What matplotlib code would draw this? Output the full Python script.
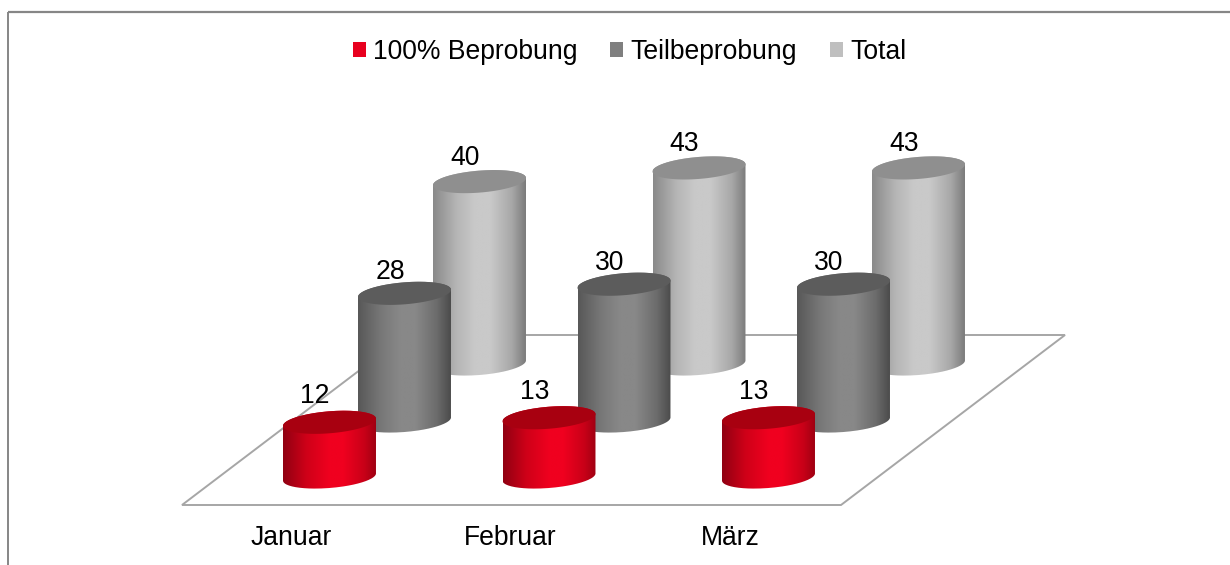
import numpy as np
import matplotlib
matplotlib.use("Agg")
import matplotlib.pyplot as plt
from matplotlib.colors import LinearSegmentedColormap
from matplotlib.patches import PathPatch, Patch, Polygon
from matplotlib.path import Path

categories = ["Januar", "Februar", "März"]
series_names = ["100% Beprobung", "Teilbeprobung", "Total"]
beprobung = [12, 13, 13]
teilbeprobung = [28, 30, 30]
total = [40, 43, 43]

plt.rcParams["font.family"] = ["Liberation Sans", "DejaVu Sans"]
FS = 19.1
fig = plt.figure(figsize=(12.3, 5.65), dpi=100)
ax = fig.add_axes([0, 0, 1, 1])
ax.axis("off")

# layout in pixel space
K = 4.56           # pixels per unit
A, B, S = 46.5, 11.0, 3.6
CX0, CAT_DX = 329.5, 219.5
SERIES_DX = 75
BASES = [477, 421, 364]
LABEL_GAP = [26, 21.5, 24]

styles = [
    dict(legend="#e8001f", top="#a80010",
         stops=[(0, "#900012"), (0.25, "#cf0018"), (0.5, "#f0001f"), (0.65, "#f0001f"), (0.88, "#c80018"), (1, "#a00012")]),
    dict(legend="#7f7f7f", top="#5c5c5c",
         stops=[(0, "#585858"), (0.25, "#787878"), (0.45, "#888888"), (0.62, "#888888"), (0.85, "#6c6c6c"), (1, "#4c4c4c")]),
    dict(legend="#bfbfbf", top="#8f8f8f",
         stops=[(0, "#8a8a8a"), (0.25, "#b5b5b5"), (0.45, "#c9c9c9"), (0.62, "#c9c9c9"), (0.85, "#a8a8a8"), (1, "#7c7c7c")]),
]

# platform
ax.add_patch(Polygon([(182, 505), (841, 505), (1065, 335), (406, 335)], closed=True,
                     fc="white", ec="#a6a6a6", lw=1.4, zorder=1))

# frame (left and top only)
ax.plot([8, 8], [565, 12], color="#868686", lw=1.4, zorder=1, solid_capstyle="butt")
ax.plot([8, 1230], [12, 12], color="#868686", lw=1.6, zorder=1, solid_capstyle="butt")


def ellipse(cx, cy, t):
    return cx + A * np.cos(t), cy - S * np.cos(t) - B * np.sin(t)


def cylinder(cx, base, value, style, z):
    top = base - K * value
    # silhouette: upper arc of the top, lower arc of the bottom
    t_up = np.linspace(np.pi, 0, 80)
    t_lo = np.linspace(0, -np.pi, 80)
    xu, yu = ellipse(cx, top, t_up)
    xl, yl = ellipse(cx, base, t_lo)
    verts = np.column_stack([np.r_[xu, xl, xu[0]], np.r_[yu, yl, yu[0]]])
    clip = PathPatch(Path(verts), transform=ax.transData, fc="none", ec="none", zorder=z)
    ax.add_patch(clip)
    cmap = LinearSegmentedColormap.from_list("c", style["stops"])
    im = ax.imshow(np.linspace(0, 1, 128)[None, :], cmap=cmap, aspect="auto",
                   extent=(cx - A, cx + A, base + 20, top - 20), zorder=z, interpolation="bilinear")
    im.set_clip_path(clip)
    t = np.linspace(0, 2 * np.pi, 160)
    xt, yt = ellipse(cx, top, t)
    ax.fill(xt, yt, color=style["top"], lw=0, zorder=z + 0.1)
    return top


values = [beprobung, teilbeprobung, total]
for s in [2, 1, 0]:
    for c in range(len(categories)):
        cx = CX0 + CAT_DX * c + SERIES_DX * s
        top = cylinder(cx, BASES[s], values[s][c], styles[s], 2 + (2 - s) + c * 0.2)
        ax.text(cx - 14.5, top - LABEL_GAP[s], str(values[s][c]), ha="center", va="center",
                fontsize=FS, color="black", zorder=10)

for c, name in enumerate(categories):
    ax.text(CX0 - 38.5 + CAT_DX * c, 538, name, ha="center", va="center",
            fontsize=FS, color="black", zorder=10)

ax.set_xlim(0, 1230)
ax.set_ylim(565, 0)

handles = [Patch(fc=st["legend"], ec="none") for st in styles]
fig.legend(handles, series_names, loc="center", bbox_to_anchor=(629.5 / 1230, 1 - 52 / 565),
           ncol=3, frameon=False, fontsize=FS, handlelength=0.49, handleheight=0.49,
           handletextpad=0.27, columnspacing=1.25, borderpad=0, borderaxespad=0)

fig.savefig("out.png", dpi=100)
